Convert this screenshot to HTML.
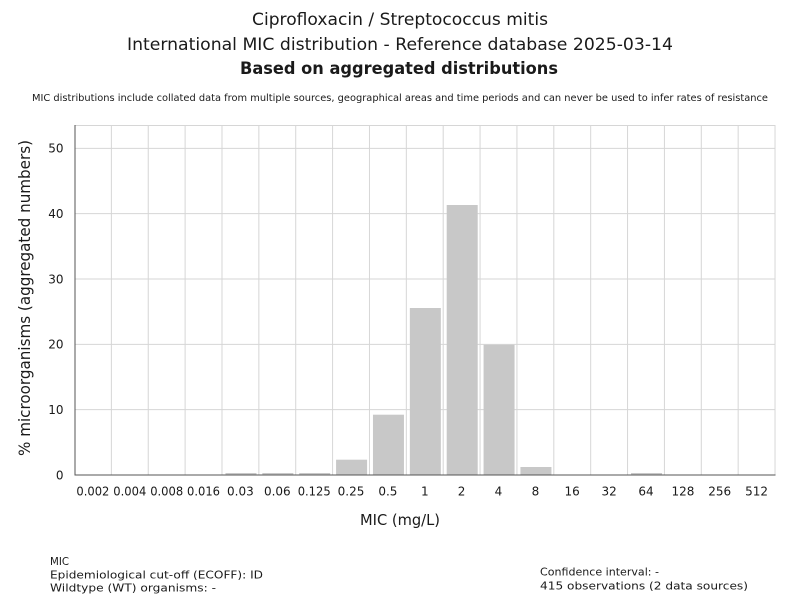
<!DOCTYPE html>
<html>
<head>
<meta charset="utf-8">
<style>
html,body{margin:0;padding:0;background:#fff;}
svg{display:block;}
text{font-family:"DejaVu Sans","Liberation Sans",sans-serif;fill:#1a1a1a;}
</style>
</head>
<body>
<svg width="800" height="600" viewBox="0 0 800 600" xmlns="http://www.w3.org/2000/svg">
<rect x="0" y="0" width="800" height="600" fill="#fff"/>

<!-- Titles -->
<text x="400" y="25" font-size="17" text-anchor="middle" textLength="296" lengthAdjust="spacingAndGlyphs">Ciprofloxacin / Streptococcus mitis</text>
<text x="400" y="50" font-size="17" text-anchor="middle" textLength="546" lengthAdjust="spacingAndGlyphs">International MIC distribution - Reference database 2025-03-14</text>
<text x="399" y="74" font-size="17" font-weight="bold" text-anchor="middle" textLength="318" lengthAdjust="spacingAndGlyphs">Based on aggregated distributions</text>
<text x="400" y="101" font-size="10" text-anchor="middle" textLength="736" lengthAdjust="spacingAndGlyphs">MIC distributions include collated data from multiple sources, geographical areas and time periods and can never be used to infer rates of resistance</text>

<!-- Grid: vertical -->
<g stroke="#d6d6d6" stroke-width="1">
<line x1="111.37" y1="125" x2="111.37" y2="475"/>
<line x1="148.24" y1="125" x2="148.24" y2="475"/>
<line x1="185.11" y1="125" x2="185.11" y2="475"/>
<line x1="221.98" y1="125" x2="221.98" y2="475"/>
<line x1="258.85" y1="125" x2="258.85" y2="475"/>
<line x1="295.72" y1="125" x2="295.72" y2="475"/>
<line x1="332.59" y1="125" x2="332.59" y2="475"/>
<line x1="369.46" y1="125" x2="369.46" y2="475"/>
<line x1="406.33" y1="125" x2="406.33" y2="475"/>
<line x1="443.2" y1="125" x2="443.2" y2="475"/>
<line x1="480.07" y1="125" x2="480.07" y2="475"/>
<line x1="516.94" y1="125" x2="516.94" y2="475"/>
<line x1="553.81" y1="125" x2="553.81" y2="475"/>
<line x1="590.68" y1="125" x2="590.68" y2="475"/>
<line x1="627.55" y1="125" x2="627.55" y2="475"/>
<line x1="664.42" y1="125" x2="664.42" y2="475"/>
<line x1="701.29" y1="125" x2="701.29" y2="475"/>
<line x1="738.16" y1="125" x2="738.16" y2="475"/>
<line x1="775.03" y1="125" x2="775.03" y2="475"/>
<!-- horizontal -->
<line x1="75" y1="409.67" x2="775.5" y2="409.67"/>
<line x1="75" y1="344.33" x2="775.5" y2="344.33"/>
<line x1="75" y1="279" x2="775.5" y2="279"/>
<line x1="75" y1="213.67" x2="775.5" y2="213.67"/>
<line x1="75" y1="148.33" x2="775.5" y2="148.33"/>
<line x1="75" y1="125.5" x2="775.5" y2="125.5"/>
</g>

<!-- Bars -->
<g fill="#c8c8c8">
<rect x="225.48" y="473" width="31" height="2"/>
<rect x="262.35" y="473" width="31" height="2"/>
<rect x="299.22" y="473" width="31" height="2"/>
<rect x="336.09" y="459.7" width="31" height="15.3"/>
<rect x="372.96" y="414.7" width="31" height="60.3"/>
<rect x="409.83" y="308" width="31" height="167"/>
<rect x="446.7" y="205" width="31" height="270"/>
<rect x="483.57" y="344.7" width="31" height="130.3"/>
<rect x="520.44" y="467" width="31" height="8"/>
<rect x="631.05" y="473" width="31" height="2"/>
</g>

<!-- Axes -->
<line x1="75" y1="125" x2="75" y2="475.5" stroke="#555" stroke-width="1"/>
<line x1="74.5" y1="475" x2="775.5" y2="475" stroke="#555" stroke-width="1"/>

<!-- Y tick labels -->
<g font-size="12" text-anchor="end">
<text x="63.5" y="479.5">0</text>
<text x="63.5" y="414">10</text>
<text x="63.5" y="348.7">20</text>
<text x="63.5" y="283.3">30</text>
<text x="63.5" y="218">40</text>
<text x="63.5" y="152.7">50</text>
</g>

<!-- X tick labels -->
<g font-size="12" text-anchor="middle">
<text x="92.9" y="495.5" textLength="33" lengthAdjust="spacingAndGlyphs">0.002</text>
<text x="129.8" y="495.5" textLength="33" lengthAdjust="spacingAndGlyphs">0.004</text>
<text x="166.7" y="495.5" textLength="33" lengthAdjust="spacingAndGlyphs">0.008</text>
<text x="203.5" y="495.5" textLength="33" lengthAdjust="spacingAndGlyphs">0.016</text>
<text x="240.4" y="495.5">0.03</text>
<text x="277.3" y="495.5">0.06</text>
<text x="314.2" y="495.5" textLength="33" lengthAdjust="spacingAndGlyphs">0.125</text>
<text x="351.0" y="495.5">0.25</text>
<text x="387.9" y="495.5">0.5</text>
<text x="424.8" y="495.5">1</text>
<text x="461.6" y="495.5">2</text>
<text x="498.5" y="495.5">4</text>
<text x="535.4" y="495.5">8</text>
<text x="572.2" y="495.5">16</text>
<text x="609.1" y="495.5">32</text>
<text x="646.0" y="495.5">64</text>
<text x="682.9" y="495.5">128</text>
<text x="719.7" y="495.5">256</text>
<text x="756.6" y="495.5">512</text>
</g>

<!-- Axis titles -->
<text x="400" y="525" font-size="15.5" text-anchor="middle" textLength="80" lengthAdjust="spacingAndGlyphs">MIC (mg/L)</text>
<text transform="translate(30,298) rotate(-90)" x="0" y="0" font-size="16" text-anchor="middle" textLength="316" lengthAdjust="spacingAndGlyphs">% microorganisms (aggregated numbers)</text>

<!-- Footer -->
<g font-size="11">
<text x="50" y="565" textLength="19" lengthAdjust="spacingAndGlyphs">MIC</text>
<text x="50" y="578.3" textLength="213" lengthAdjust="spacingAndGlyphs">Epidemiological cut-off (ECOFF): ID</text>
<text x="50" y="591.7" textLength="166" lengthAdjust="spacingAndGlyphs">Wildtype (WT) organisms:  -</text>
<text x="540" y="575.7" textLength="119" lengthAdjust="spacingAndGlyphs">Confidence interval: -</text>
<text x="540" y="589.3" textLength="208" lengthAdjust="spacingAndGlyphs">415 observations (2 data sources)</text>
</g>
</svg>
</body>
</html>
